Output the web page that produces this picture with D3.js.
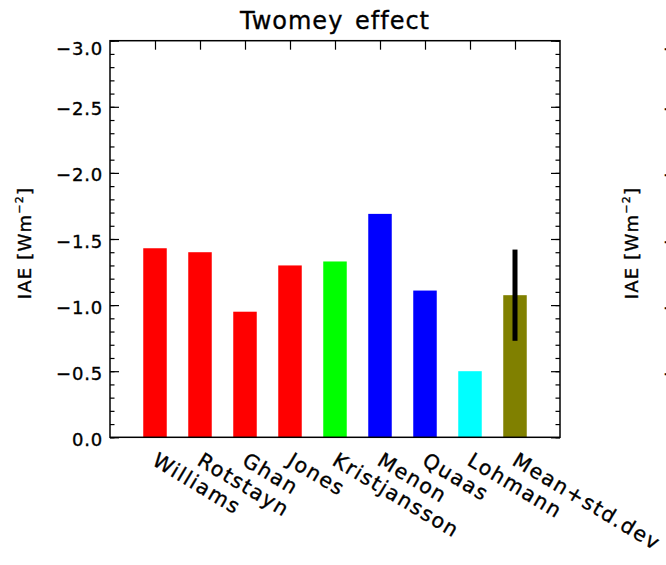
<!DOCTYPE html>
<html>
<head>
<meta charset="utf-8">
<script src="https://d3js.org/d3.v7.min.js"></script>
<style>
  body { margin: 0; background: #fff; }
  svg { display: block; font-family: "DejaVu Sans", sans-serif; }
  svg text { fill: #000; stroke: #000; stroke-width: 0.35px; }
  .tick line { stroke: #000; stroke-width: 1.2px; }
</style>
</head>
<body>
<div id="chart"></div>
<script>

// data (IAE in W m-2)
var models = ["Williams", "Rotstayn", "Ghan", "Jones", "Kristjansson", "Menon", "Quaas", "Lohmann", "Mean+std.dev"];
var iae = [-1.43, -1.40, -0.95, -1.30, -1.33, -1.69, -1.11, -0.50, -1.075];
var barColors = ["#ff0000", "#ff0000", "#ff0000", "#ff0000", "#00ff00", "#0000ff", "#0000ff", "#00ffff", "#808000"];
var meanStd = 0.345;
var yMajor = [0, -0.5, -1.0, -1.5, -2.0, -2.5, -3.0];
var yMinor = d3.range(0, 31).map(function(i) { return -i / 10; });

var W = 666, H = 565;
var margin = {left: 110, right: 106, top: 41, bottom: 128};
var panelGap = 607;   // the next panel starts this far to the right (cut off)

var svg = d3.select("#chart").append("svg")
  .attr("width", W)
  .attr("height", H);

var x = d3.scaleLinear().domain([0, 10]).range([margin.left, W - margin.right]);
var y = d3.scaleLinear().domain([0, -3]).range([H - margin.bottom + 0.3, margin.top - 0.3]);
var fmt = d3.format(".1f");

// title
svg.append("text")
  .attr("x", (x(0) + x(10)) / 2)
  .attr("y", 29)
  .attr("text-anchor", "middle")
  .style("font-size", "24px")
  .style("letter-spacing", "1px")
  .style("word-spacing", "3px")
  .text("Twomey effect");

// ticks: left and right, major and minor, pointing inwards
function yTicks(axis, pos, vals, size) {
  svg.append("g")
    .attr("transform", "translate(" + pos + ",0)")
    .call(axis(y).tickValues(vals).tickSize(size).tickFormat(""))
    .call(function(g) { g.select(".domain").remove(); });
}
yTicks(d3.axisRight, x(0), yMinor, 4.5);
yTicks(d3.axisRight, x(0), yMajor, 9);
yTicks(d3.axisLeft, x(10), yMinor, 4.5);
yTicks(d3.axisLeft, x(10), yMajor, 9);

// top and bottom ticks at every slot
svg.append("g")
  .attr("transform", "translate(0," + y(-3) + ")")
  .call(d3.axisBottom(x).tickValues(d3.range(1, 10)).tickSize(9).tickFormat(""))
  .call(function(g) { g.select(".domain").remove(); });
svg.append("g")
  .attr("transform", "translate(0," + y(0) + ")")
  .call(d3.axisTop(x).tickValues(d3.range(1, 10)).tickSize(9).tickFormat(""))
  .call(function(g) { g.select(".domain").remove(); });

// bars
var barW = 23.5;
svg.selectAll(".bar")
  .data(iae)
  .enter().append("rect")
  .attr("class", "bar")
  .attr("x", function(d, i) { return x(i + 1) - barW / 2; })
  .attr("y", function(d) { return y(d); })
  .attr("width", barW)
  .attr("height", function(d) { return y(0) - y(d); })
  .attr("fill", function(d, i) { return barColors[i]; });

// std dev bar on the mean
var last = iae.length - 1;
svg.append("rect")
  .attr("x", x(last + 1) - 2.5)
  .attr("y", y(iae[last] - meanStd))
  .attr("width", 5)
  .attr("height", y(iae[last] + meanStd) - y(iae[last] - meanStd))
  .attr("fill", "#000");

// frame
svg.append("rect")
  .attr("x", x(0))
  .attr("y", y(-3))
  .attr("width", x(10) - x(0))
  .attr("height", y(0) - y(-3))
  .attr("fill", "none")
  .attr("stroke", "#000")
  .attr("stroke-width", 1.5);

// y tick labels and axis title, for this panel and the cut-off one
function yLabels(offset) {
  svg.selectAll(null)
    .data(yMajor)
    .enter().append("text")
    .attr("x", x(0) - 7 + offset)
    .attr("y", function(d) { return y(d) + (d === -3 ? 14 : 8.5); })
    .attr("text-anchor", "end")
    .style("font-size", "18px")
    .style("letter-spacing", "0.8px")
    .text(function(d) { return fmt(d); });

  var t = svg.append("text")
    .attr("transform", "translate(" + (31 + offset) + ",243) rotate(-90)")
    .attr("text-anchor", "middle")
    .style("font-size", "18px")
    .style("letter-spacing", "1.2px");
  t.append("tspan").text("IAE [Wm");
  t.append("tspan").attr("dy", -8).style("font-size", "11px").text("\u22122");
  t.append("tspan").attr("dy", 8).text("]");
}
yLabels(0);
yLabels(panelGap);

// rotated category labels
svg.selectAll(".xlab")
  .data(models)
  .enter().append("text")
  .attr("class", "xlab")
  .attr("transform", function(d, i) {
    return "translate(" + (x(i + 1) - 4) + "," + (y(0) + 27) + ") rotate(31)";
  })
  .style("font-size", "20.5px")
  .style("letter-spacing", "1.6px")
  .text(function(d) { return d; });

</script>
</body>
</html>
